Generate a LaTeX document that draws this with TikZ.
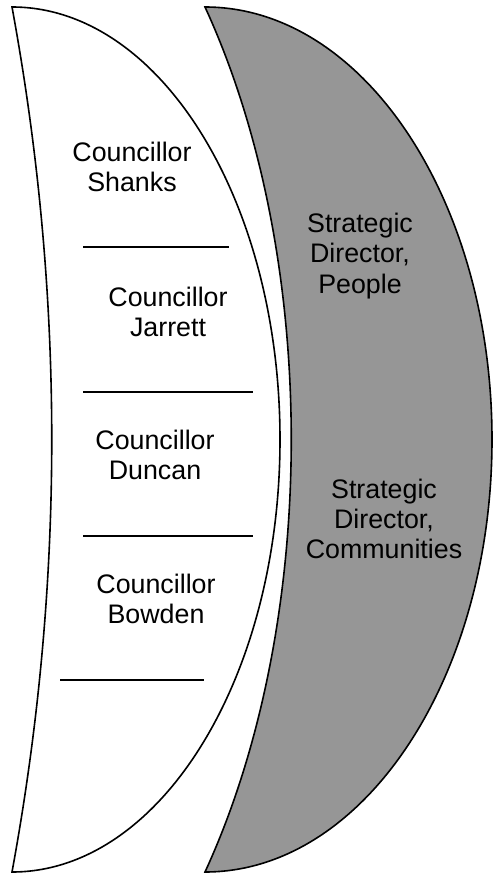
\documentclass[tikz,border=0pt]{standalone}
\usepackage{fontspec}
\setmainfont{Liberation Sans}
\definecolor{moon_gray}{RGB}{150,150,150}

\begin{document}
\begin{tikzpicture}[x=1pt,y=-1pt,line width=1.6pt]
    \tikzstyle{moon}=[draw=black,line join=miter]
    \tikzstyle{label}=[align=center,font=\fontsize{26.8}{30}\selectfont,inner sep=0pt,anchor=base,text=black]
    \tikzstyle{divider}=[draw=black]
    \useasboundingbox (0,0) rectangle (494,874);

    % councillors crescent
    \coordinate (ctop) at (12,7);
    \path[moon,fill=white] (ctop)
      arc[start angle=-90,end angle=90,x radius=268,y radius=432.5]
      .. controls (65,584) and (65,295) .. (ctop) -- cycle;

    % directors crescent
    \coordinate (dtop) at (205,7);
    \path[moon,fill=moon_gray] (dtop)
      arc[start angle=-90,end angle=90,x radius=287,y radius=432.5]
      .. controls (320,622) and (320,257) .. (dtop) -- cycle;

    \foreach \y/\xa/\xb in {247/83/229, 392/83/253, 536/83/253, 680/60/204}
      \path[divider] (\xa,\y) -- (\xb,\y);

    % base anchor sits on the last line
    \node[label] (shanks)      at (132,192) {Councillor\\Shanks};
    \node[label] (jarrett)     at (168,336) {Councillor\\Jarrett};
    \node[label] (duncan)      at (155,479) {Councillor\\Duncan};
    \node[label] (bowden)      at (156,623) {Councillor\\Bowden};
    \node[label] (people)      at (360,293) {Strategic\\Director,\\People};
    \node[label] (communities) at (384,558) {Strategic\\Director,\\Communities};
\end{tikzpicture}
\end{document}
